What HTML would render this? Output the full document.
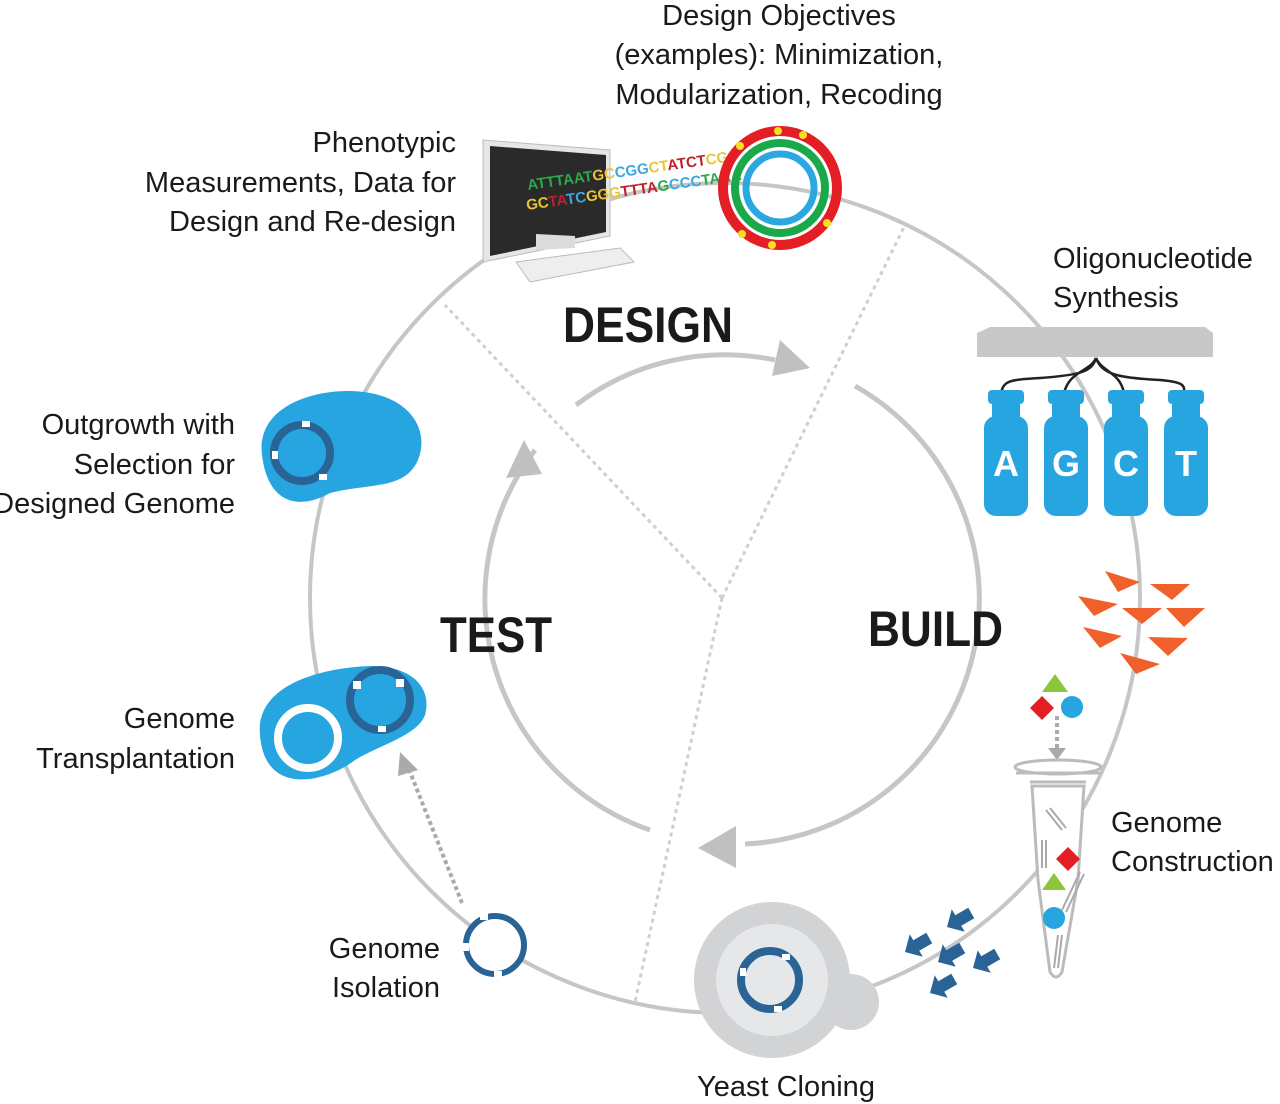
<!DOCTYPE html>
<html><head><meta charset="utf-8"><style>
html,body{margin:0;padding:0;background:#fff;}
svg{display:block;}
text{font-family:"Liberation Sans",sans-serif;}
.lbl{font-size:29px;fill:#1a1a1a;}
.big{font-size:50px;font-weight:bold;fill:#1a1a1a;}
</style></head><body>
<svg width="1280" height="1104" viewBox="0 0 1280 1104" xmlns="http://www.w3.org/2000/svg">
<defs>
<polygon id="ar" points="0,0 -13,-13 -13,-6 -28,-6 -28,6 -13,6 -13,13" fill="#2a6496"/>
<g id="b1" fill="#27a5e0"><rect x="988" y="390" width="36" height="14" rx="4"/><rect x="992" y="404" width="28" height="14"/><rect x="984" y="416" width="44" height="100" rx="12"/></g>
</defs>
<circle cx="725" cy="598" r="415" fill="none" stroke="#c6c6c6" stroke-width="4"/>
<g stroke="#cfcfcf" stroke-width="3" stroke-dasharray="4 4" fill="none">
<line x1="722" y1="598" x2="445" y2="305"/>
<line x1="722" y1="598" x2="905" y2="225"/>
<line x1="722" y1="598" x2="635" y2="1002"/>
</g>
<g stroke="#c6c6c6" stroke-width="5" fill="none">
<path d="M576 405 A245 245 0 0 1 775 360"/>
<path d="M855 386 A245 245 0 0 1 745 844"/>
<path d="M650 830 A245 245 0 0 1 535 450"/>
</g>
<g fill="#c0c0c0">
<polygon points="810,368 772,376 780,340"/>
<polygon points="698,848 736,826 736,868"/>
<polygon points="524,440 506,478 542,474"/>
</g>
<text class="big" x="563" y="342" textLength="170" lengthAdjust="spacingAndGlyphs">DESIGN</text>
<text class="big" x="440" y="652" textLength="112" lengthAdjust="spacingAndGlyphs">TEST</text>
<text class="big" x="868" y="646" textLength="135" lengthAdjust="spacingAndGlyphs">BUILD</text>
<g class="lbl">
<text x="779" y="25" text-anchor="middle">Design Objectives</text>
<text x="779" y="64" text-anchor="middle">(examples): Minimization,</text>
<text x="779" y="104" text-anchor="middle">Modularization, Recoding</text>
<text x="456" y="152" text-anchor="end">Phenotypic</text>
<text x="456" y="192" text-anchor="end">Measurements, Data for</text>
<text x="456" y="231" text-anchor="end">Design and Re-design</text>
<text x="1053" y="268">Oligonucleotide</text>
<text x="1053" y="307">Synthesis</text>
<text x="235" y="434" text-anchor="end">Outgrowth with</text>
<text x="235" y="474" text-anchor="end">Selection for</text>
<text x="235" y="513" text-anchor="end">Designed Genome</text>
<text x="235" y="728" text-anchor="end">Genome</text>
<text x="235" y="768" text-anchor="end">Transplantation</text>
<text x="1111" y="832">Genome</text>
<text x="1111" y="871">Construction</text>
<text x="440" y="958" text-anchor="end">Genome</text>
<text x="440" y="997" text-anchor="end">Isolation</text>
<text x="786" y="1096" text-anchor="middle">Yeast Cloning</text>
</g>
<!-- computer -->
<polygon points="483,140 610,150 610,236 483,262" fill="#e6e6e6" stroke="#bbb"/>
<polygon points="490,146 606,155 606,232 490,256" fill="#2a2a2a"/>
<polygon points="536,234 575,236 575,248 536,250" fill="#dcdcdc"/>
<polygon points="516,262 620,248 634,262 530,282" fill="#eee" stroke="#bbb"/>
<g font-family="Liberation Serif" font-weight="bold" font-size="15">
<text x="528" y="190" fill="#2aa84a" transform="rotate(-8 528 190)">ATTTAAT<tspan fill="#e8c43a">GC</tspan><tspan fill="#3aa8e0">CGG</tspan><tspan fill="#e8c43a">CT</tspan><tspan fill="#c21f2a">ATCT</tspan><tspan fill="#e8c43a">CG</tspan></text>
<text x="527" y="210" fill="#e8c43a" transform="rotate(-8 527 210)">GC<tspan fill="#c21f2a">TA</tspan><tspan fill="#3aa8e0">TC</tspan>GGG<tspan fill="#c21f2a">TTTA</tspan><tspan fill="#2aa84a">G</tspan><tspan fill="#3aa8e0">CCC</tspan><tspan fill="#2aa84a">TAAA</tspan></text>
</g>
<!-- plasmid -->
<circle cx="780" cy="188" r="57" fill="none" stroke="#e31e24" stroke-width="10"/>
<circle cx="780" cy="188" r="45" fill="none" stroke="#1ba84b" stroke-width="8"/>
<circle cx="780" cy="188" r="34" fill="none" stroke="#2ba8e0" stroke-width="7"/>
<g fill="#f5e021"><circle cx="778" cy="131" r="4"/><circle cx="803" cy="135" r="4"/><circle cx="740" cy="146" r="4"/><circle cx="827" cy="223" r="4"/><circle cx="742" cy="234" r="4"/><circle cx="772" cy="245" r="4"/></g>
<!-- oligo synthesizer -->
<polygon points="977,333 990,327 1205,327 1213,333 1213,357 977,357" fill="#c8c8c8"/>
<g fill="none" stroke="#222" stroke-width="2.5">
<path d="M1096 358 C1092 372 1080 375 1040 378 C1010 380 1004 380 1001 393"/>
<path d="M1096 358 C1090 372 1070 370 1064 393"/>
<path d="M1096 358 C1102 372 1120 372 1124 393"/>
<path d="M1096 358 C1102 375 1120 378 1160 380 C1183 382 1185 385 1184 393"/>
</g>
<use href="#b1"/><use href="#b1" x="60"/><use href="#b1" x="120"/><use href="#b1" x="180"/>
<g fill="#fff" font-size="36" font-weight="bold" text-anchor="middle">
<text x="1006" y="476">A</text><text x="1066" y="476">G</text><text x="1126" y="476">C</text><text x="1186" y="476">T</text>
</g>
<g fill="#f0602a">
<polygon points="1105,571 1140,582 1118,592"/><polygon points="1150,584 1190,584 1172,600"/>
<polygon points="1078,596 1118,604 1094,616"/><polygon points="1122,608 1162,608 1142,624"/><polygon points="1166,608 1205,608 1184,627"/>
<polygon points="1083,627 1122,636 1100,648"/><polygon points="1148,637 1188,638 1168,656"/><polygon points="1120,653 1160,664 1136,674"/>
</g>
<polygon points="1055,674 1068,692 1042,692" fill="#8cc63f"/>
<polygon points="1042,696 1054,708 1042,720 1030,708" fill="#e31e24"/>
<circle cx="1072" cy="707" r="11" fill="#27a5e0"/>
<line x1="1057" y1="716" x2="1057" y2="748" stroke="#aaa" stroke-width="4" stroke-dasharray="4 3"/>
<polygon points="1048,748 1066,748 1057,760" fill="#aaa"/>
<ellipse cx="1058" cy="767" rx="43" ry="7" fill="none" stroke="#bbb" stroke-width="3"/>
<path d="M1016 773 L1100 773 M1030 782 L1086 782" stroke="#bbb" stroke-width="3"/>
<path d="M1032 786 L1084 786 L1078 880 L1062 972 Q1056 982 1050 972 L1038 880 Z" fill="#fff" stroke="#bbb" stroke-width="3"/>
<g stroke="#aaa" stroke-width="2"><line x1="1046" y1="810" x2="1062" y2="830"/><line x1="1050" y1="808" x2="1066" y2="828"/><line x1="1042" y1="840" x2="1042" y2="868"/><line x1="1046" y1="840" x2="1046" y2="868"/><line x1="1080" y1="872" x2="1062" y2="910"/><line x1="1084" y1="874" x2="1066" y2="912"/><line x1="1058" y1="935" x2="1054" y2="968"/><line x1="1062" y1="935" x2="1058" y2="968"/></g>
<polygon points="1068,847 1080,859 1068,871 1056,859" fill="#e31e24"/>
<polygon points="1054,873 1066,890 1042,890" fill="#8cc63f"/>
<circle cx="1054" cy="918" r="11" fill="#27a5e0"/>
<!-- navy arrows pointing down-left -->
<use href="#ar" transform="translate(905,952) rotate(150)"/>
<use href="#ar" transform="translate(947,927) rotate(150)"/>
<use href="#ar" transform="translate(938,962) rotate(150)"/>
<use href="#ar" transform="translate(973,968) rotate(150)"/>
<use href="#ar" transform="translate(930,993) rotate(150)"/>
<!-- yeast -->
<circle cx="851" cy="1002" r="28" fill="#d2d3d5"/>
<circle cx="772" cy="980" r="78" fill="#d2d3d5"/>
<circle cx="772" cy="980" r="56" fill="#e6e7e8"/>
<circle cx="770" cy="980" r="29" fill="none" stroke="#2a6496" stroke-width="8"/>
<g fill="#fff"><rect x="782" y="954" width="8" height="6"/><rect x="740" y="968" width="6" height="8"/><rect x="774" y="1006" width="8" height="6"/></g>
<circle cx="495" cy="945" r="29" fill="#fff" stroke="#2a6496" stroke-width="6"/>
<g fill="#fff"><rect x="480" y="914" width="8" height="6"/><rect x="463" y="943" width="6" height="8"/><rect x="494" y="971" width="8" height="6"/></g>
<line x1="462" y1="903" x2="410" y2="772" stroke="#aaa" stroke-width="4" stroke-dasharray="4 3"/>
<polygon points="400,752 398,776 418,770" fill="#aaa"/>
<path d="M262 455 C255 400 330 385 370 393 C410 400 430 430 418 460 C405 490 370 483 330 493 C300 510 268 505 262 455 Z" fill="#27a5e0"/>
<circle cx="302" cy="453" r="28" fill="none" stroke="#2a6496" stroke-width="8"/>
<g fill="#fff"><rect x="302" y="421" width="8" height="6"/><rect x="272" y="451" width="6" height="8"/><rect x="319" y="474" width="8" height="6"/></g>
<path d="M260 735 C255 685 320 668 370 666 C415 666 432 690 425 715 C418 735 380 745 355 760 C330 780 265 800 260 735 Z" fill="#27a5e0"/>
<circle cx="308" cy="738" r="30" fill="#27a5e0" stroke="#fff" stroke-width="8"/>
<circle cx="380" cy="700" r="30" fill="none" stroke="#2a6496" stroke-width="8"/>
<g fill="#fff"><rect x="353" y="681" width="8" height="8"/><rect x="396" y="679" width="8" height="8"/><rect x="378" y="726" width="8" height="6"/></g>
</svg>
</body></html>
